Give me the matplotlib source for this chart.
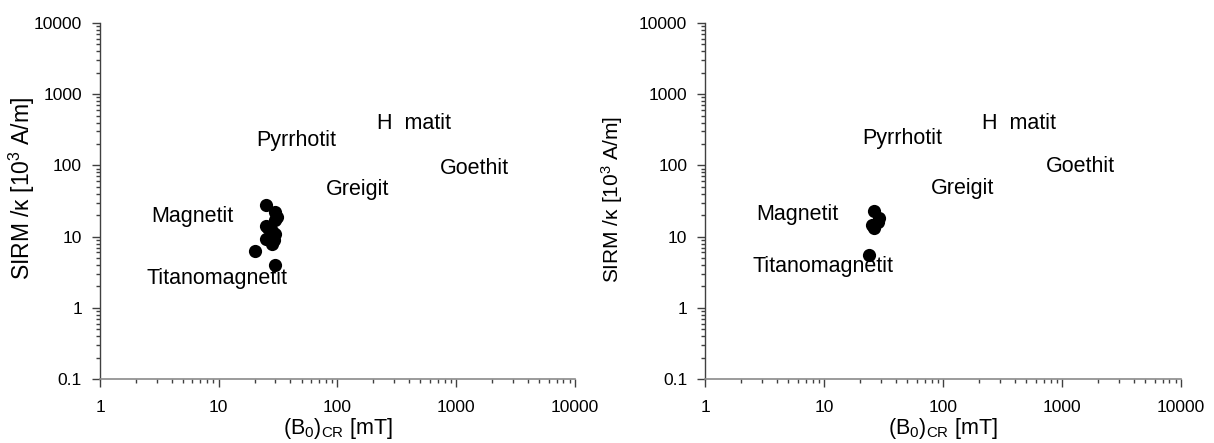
import matplotlib
matplotlib.use("Agg")
import matplotlib.pyplot as plt
from matplotlib.ticker import FixedLocator, FixedFormatter, LogLocator, NullFormatter

plt.rcParams["font.family"] = ["Liberation Sans", "DejaVu Sans"]
plt.rcParams["mathtext.fontset"] = "custom"
plt.rcParams["mathtext.rm"] = "Liberation Sans"
plt.rcParams["mathtext.it"] = "Liberation Sans"

# sample points: coercivity of remanence (mT) vs SIRM/kappa (10^3 A/m)
left_bcr = [25, 30, 30, 31, 25, 30, 25, 28, 20, 30, 28, 27, 29, 26]
left_sirm = [28, 22, 17, 19, 14, 11, 9.4, 8.0, 6.3, 4.0, 12, 10, 9, 13]

right_bcr = [26, 29, 26, 28.5, 25, 24]
right_sirm = [23, 18, 13, 16, 14.5, 5.6]

# mineral field labels (text, x, y) per panel
minerals = ["Pyrrhotit", "H  matit", "Goethit", "Greigit", "Magnetit", "Titanomagnetit"]
left_lab_x = [20.6, 214, 730, 80, 2.72, 2.47]
left_lab_y = [225, 385, 90, 46, 19.3, 2.6]
right_lab_x = [20.7, 214, 726, 79, 2.7, 2.48]
right_lab_y = [237, 393, 97, 47, 20.6, 3.76]

x_ticks = [1, 10, 100, 1000, 10000]
x_tick_labels = ["1", "10", "100", "1000", "10000"]
y_ticks = [0.1, 1, 10, 100, 1000, 10000]
y_tick_labels = ["0.1", "1", "10", "100", "1000", "10000"]

fig = plt.figure(figsize=(12.14, 4.43), dpi=100)
ax_l = fig.add_axes([0.0824, 0.1445, 0.3912, 0.8035])
ax_r = fig.add_axes([0.5810, 0.1445, 0.3918, 0.8035])


def style_axes(ax, ylabel_size, ylabel_xy):
    ax.set_xscale("log")
    ax.set_yscale("log")
    ax.set_xlim(1, 10000)
    ax.set_ylim(0.1, 10000)
    for side in ("top", "right"):
        ax.spines[side].set_visible(False)
    ax.spines["left"].set_color("#404040")
    ax.spines["bottom"].set_color("#8a8a8a")
    ax.spines["left"].set_linewidth(1.0)
    ax.spines["bottom"].set_linewidth(1.2)
    ax.xaxis.set_major_locator(FixedLocator(x_ticks))
    ax.xaxis.set_major_formatter(FixedFormatter(x_tick_labels))
    ax.yaxis.set_major_locator(FixedLocator(y_ticks))
    ax.yaxis.set_major_formatter(FixedFormatter(y_tick_labels))
    ax.xaxis.set_minor_locator(LogLocator(base=10, subs=range(2, 10)))
    ax.yaxis.set_minor_locator(LogLocator(base=10, subs=range(2, 10)))
    ax.xaxis.set_minor_formatter(NullFormatter())
    ax.yaxis.set_minor_formatter(NullFormatter())
    ax.tick_params(which="major", direction="out", length=6, width=1,
                   color="#404040", labelsize=12.5)
    ax.tick_params(which="minor", direction="out", length=3, width=1,
                   color="#404040")
    ax.tick_params(axis="x", which="major", pad=9)
    ax.tick_params(axis="y", which="major", pad=7)
    ax.set_xlabel(r"(B$_0$)$_{\rm CR}$ [mT]", fontsize=15.5, labelpad=1)
    ax.set_ylabel(r"SIRM /κ [10$^3$ A/m]", fontsize=ylabel_size)
    ax.yaxis.set_label_coords(*ylabel_xy)


for ax, bx, sy, lx, ly, ysz, yxy in [
    (ax_l, left_bcr, left_sirm, left_lab_x, left_lab_y, 16.5, (-0.133, 0.535)),
    (ax_r, right_bcr, right_sirm, right_lab_x, right_lab_y, 15, (-0.168, 0.505)),
]:
    style_axes(ax, ysz, yxy)
    ax.plot(bx, sy, "o", color="black", markersize=9.5, markeredgewidth=0,
            clip_on=False, zorder=3)
    for name, tx, ty in zip(minerals, lx, ly):
        ax.text(tx, ty, name, ha="left", va="center", fontsize=15.5, zorder=4)

fig.savefig("out.png", dpi=100)
